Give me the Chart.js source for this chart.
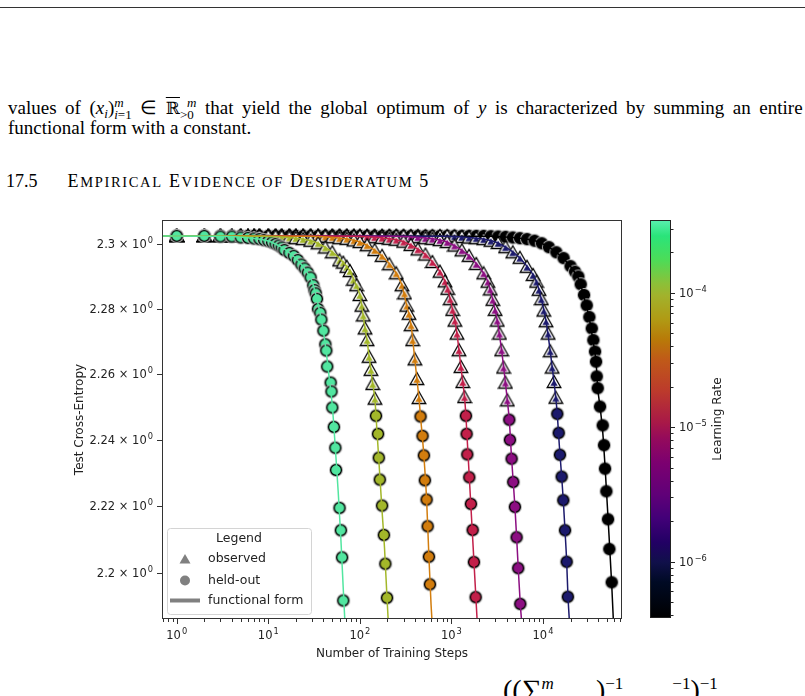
<!DOCTYPE html>
<html>
<head>
<meta charset="UTF-8">
<title>Empirical Evidence of Desideratum 5</title>
<script src="https://cdn.jsdelivr.net/npm/chart.js"></script>
<style>
  body { margin: 0; width: 805px; height: 696px; overflow: hidden; background: #fff; position: relative;
         font-family: "Liberation Serif", "Times New Roman", serif; color: #000; }
  .rule { position: absolute; left: 0; top: 7px; width: 805px; height: 1px; background: #333; }
  .txt { position: absolute; left: 8px; font-size: 19px; line-height: 19px; white-space: nowrap; }
  .ss { display: inline-block; vertical-align: -5px; font-size: 13px; line-height: 12px; }
  .ss span { display: block; }
  sub { font-size: 13px; vertical-align: -4px; line-height: 0; }
  .ov { text-decoration: overline; font-family: "DejaVu Serif", serif; font-size: 17px; }
  .sc { font-size: 14.5px; }
  #main { position: absolute; left: 70px; top: 210px; }
  #cbar { position: absolute; left: 640px; top: 210px; }
  .formula { position: absolute; left: 503px; top: 674px; font-size: 28px; white-space: nowrap; }
  .formula sup { font-size: 17px; vertical-align: 10px; }
</style>
</head>
<body>
<div class="rule"></div>
<div class="txt" id="l1" style="top:97px">values of (<i>x<sub>i</sub></i>)<span class="ss"><span><i>m</i></span><span><i>i</i>=1</span></span> ∈ <span class="ov">ℝ</span><span class="ss"><span>&nbsp;<i>m</i></span><span>&gt;0</span></span> that yield the global optimum of <i>y</i> is characterized by summing an entire</div>
<div class="txt" style="top:118px">functional form with a constant.</div>
<div class="txt" style="top:172px; left:6px; font-size:18px">17.5<span id="head" style="margin-left:30px">E<span class="sc">MPIRICAL</span> E<span class="sc">VIDENCE OF</span> D<span class="sc">ESIDERATUM</span> 5</span></div>
<div class="formula">((∑<sup><i>m</i></sup>&nbsp;&nbsp;&nbsp;&nbsp;&nbsp;&nbsp;)<sup>−1</sup>&nbsp;&nbsp;&nbsp;&nbsp;&nbsp;&nbsp;&nbsp;<sup>−1</sup>)<sup>−1</sup></div>

<canvas id="main" width="560" height="460"></canvas>
<canvas id="cbar" width="110" height="420"></canvas>

<script>
// one curve per learning rate, highest first (green) down to lowest (black)
const learningRates = [3.2e-4, 1e-4, 3.2e-5, 1e-5, 3.2e-6, 1e-6, 3.8e-7];
const curveColors = ['#52e6a0', '#a3b72a', '#d27d0e', '#c2204a', '#8c0f82', '#1c1a6c', '#000000'];

// observed points (triangles)
const obsSteps = [
  [],
  [1,2,3,4,5,6,7,8,10,12,14,17,20,24,29,35,42,50,60,66,72,78,85,92,100,105,109,114,120,126,132,138,146],
  [1,2,3,4,5,6,7,8,10,12,14,17,20,24,29,35,42,50,60,72,86,100,120,145,175,210,250,288,307,325,344,363,377,399,420,442],
  [1,2,3,4,5,6,7,8,10,12,14,17,20,24,29,35,42,50,60,72,86,100,120,145,175,210,250,300,360,430,520,620,750,850,910,970,1030,1090,1150,1210,1270,1330,1390],
  [1,2,3,4,5,6,7,8,10,12,14,17,20,24,29,35,42,50,60,72,86,100,120,145,175,210,250,300,360,430,520,620,750,900,1080,1300,1560,1870,2250,2500,2660,2830,3000,3170,3350,3530,3710,3890,4080],
  [1,2,3,4,5,6,7,8,10,12,14,17,20,24,29,35,42,50,60,72,86,100,120,145,175,210,250,300,360,430,520,620,750,900,1080,1300,1560,1870,2250,2700,3240,3900,4680,5600,6700,7800,8500,9050,9600,10200,10800,11400,12000,12600,13200,13800],
  []
];
const obsLoss = [
  [],
  [2.3026,2.3026,2.3026,2.3026,2.3026,2.3026,2.3026,2.3025,2.3025,2.3024,2.3023,2.3021,2.3019,2.3016,2.3011,2.3003,2.299,2.2975,2.295,2.2943,2.293,2.2917,2.289,2.2873,2.2843,2.281,2.278,2.274,2.2704,2.2653,2.2613,2.257,2.2525],
  [2.3026,2.3026,2.3026,2.3026,2.3026,2.3026,2.3026,2.3026,2.3026,2.3026,2.3026,2.3026,2.3026,2.3026,2.3025,2.3025,2.3024,2.3022,2.3019,2.3017,2.3012,2.3007,2.2997,2.2982,2.2964,2.2938,2.291,2.2873,2.2848,2.281,2.2785,2.275,2.2704,2.2645,2.2585,2.2527],
  [2.3026,2.3026,2.3026,2.3026,2.3026,2.3026,2.3026,2.3026,2.3026,2.3026,2.3026,2.3026,2.3026,2.3026,2.3026,2.3026,2.3026,2.3026,2.3026,2.3026,2.3025,2.3025,2.3024,2.3022,2.302,2.3017,2.3014,2.3008,2.2998,2.2984,2.2968,2.2945,2.2915,2.2885,2.2862,2.283,2.2797,2.2764,2.2724,2.2673,2.2622,2.2576,2.253],
  [2.3026,2.3026,2.3026,2.3026,2.3026,2.3026,2.3026,2.3026,2.3026,2.3026,2.3026,2.3026,2.3026,2.3026,2.3026,2.3026,2.3026,2.3026,2.3026,2.3026,2.3026,2.3026,2.3026,2.3026,2.3026,2.3026,2.3026,2.3025,2.3024,2.3022,2.3019,2.3017,2.3013,2.3007,2.2996,2.2981,2.2964,2.2939,2.291,2.2884,2.286,2.2828,2.2797,2.2764,2.2724,2.2673,2.262,2.2574,2.252],
  [2.3026,2.3026,2.3026,2.3026,2.3026,2.3026,2.3026,2.3026,2.3026,2.3026,2.3026,2.3026,2.3026,2.3026,2.3026,2.3026,2.3026,2.3026,2.3026,2.3026,2.3026,2.3026,2.3026,2.3026,2.3026,2.3026,2.3026,2.3026,2.3026,2.3026,2.3026,2.3026,2.3026,2.3026,2.3025,2.3023,2.3021,2.3019,2.3016,2.3011,2.3004,2.2991,2.2975,2.2958,2.293,2.2905,2.2884,2.2859,2.283,2.2795,2.2762,2.2724,2.267,2.262,2.2576,2.2528],
  []
];

// held-out points (circles)
const heldSteps = [
  [1,2,3,4,5,6,7,8,9,10,11,12,13,14,15,17,19,21,23,25,27,29,31,32,33,34,35,37,38,40,42,43,44,48,49,50,52,54,55,60,62,64,66],
  [150,158,161,165,175,183,190,198],
  [460,484,500,513,536,550,568,582],
  [1440,1466,1490,1567,1634,1706,1762,1841],
  [4285,4355,4545,4735,4940,5155,5370,5650],
  [14320,14860,15300,16000,16670,17400,18150,18700],
  [1,2,3,4,5,6,7,8,10,12,14,17,20,24,29,35,42,50,60,72,86,100,120,145,175,210,250,300,360,430,520,620,750,900,1080,1300,1560,1870,2250,2700,3240,3900,4680,5600,6700,8100,9700,11600,14000,16800,20000,22390,24320,25830,28060,30050,32100,34120,35510,37010,37960,38620,39620,41980,44900,46430,47620,49210,51330,53040,56360]
];
const heldLoss = [
  [2.3026,2.3026,2.3024,2.3024,2.3021,2.302,2.3018,2.3016,2.3013,2.301,2.3006,2.3001,2.2996,2.299,2.2982,2.2973,2.2964,2.2951,2.2937,2.2925,2.2912,2.2897,2.2873,2.2858,2.2848,2.2831,2.28,2.2788,2.2767,2.2733,2.2691,2.2672,2.2623,2.2574,2.2547,2.2498,2.2439,2.2376,2.2309,2.2195,2.2128,2.2047,2.1919],
  [2.2473,2.2418,2.2346,2.228,2.2202,2.2114,2.2028,2.1927],
  [2.2471,2.2412,2.2353,2.2278,2.222,2.214,2.2049,2.1967],
  [2.2473,2.2418,2.2356,2.2287,2.2207,2.2129,2.2033,2.1929],
  [2.2461,2.24,2.2343,2.2273,2.2198,2.2107,2.2015,2.1909],
  [2.2479,2.2421,2.2355,2.2289,2.2218,2.2128,2.2034,2.193],
  [2.3026,2.3026,2.3026,2.3026,2.3026,2.3026,2.3026,2.3026,2.3026,2.3026,2.3026,2.3026,2.3026,2.3026,2.3026,2.3026,2.3026,2.3026,2.3026,2.3026,2.3026,2.3026,2.3026,2.3026,2.3026,2.3026,2.3026,2.3026,2.3026,2.3026,2.3026,2.3026,2.3026,2.3026,2.3026,2.3026,2.3026,2.3026,2.3026,2.3025,2.3024,2.3023,2.3021,2.3019,2.3016,2.3011,2.3003,2.2991,2.2975,2.2957,2.2932,2.2915,2.29,2.2876,2.2843,2.2811,2.2775,2.274,2.2704,2.2669,2.2638,2.2593,2.2557,2.2501,2.2444,2.2384,2.2313,2.2245,2.2161,2.2072,2.1973]
];

// functional form
const fitSteps = [
  [0.69,3,6,10,14,18,22,26,30,34,38,42,46,50,54,58,62,66,69.5],
  [0.69,9,18,30,42,54,66,78,90,100,108,114,120,126,132,138,146,150,162,174,186,198,206],
  [0.69,28,56,93,130,167,205,250,288,325,363,390,420,442,460,500,536,568,600,620],
  [0.69,86,171,285,400,520,620,750,850,910,970,1030,1090,1150,1210,1270,1330,1390,1440,1500,1570,1640,1710,1780,1850,1925],
  [0.69,250,500,830,1160,1500,1830,2250,2500,2830,3170,3530,3890,4080,4285,4545,4735,4940,5155,5370,5650,5900],
  [0.69,850,1690,2820,3950,5080,6200,7800,8500,9600,10800,12000,13200,13800,14320,15070,16000,16670,17400,18150,18700,19450],
  [0.69,2500,5000,8360,11700,15000,18400,21700,25100,28400,31800,35100,37960,39620,41980,44900,47620,51330,56360,59200]
];
const fitLoss = [
  [2.3026,2.3025,2.302,2.301,2.299,2.2968,2.2943,2.2917,2.2885,2.283,2.2767,2.269,2.2595,2.2505,2.2375,2.2245,2.2105,2.195,2.183],
  [2.3026,2.3025,2.302,2.301,2.299,2.2968,2.2943,2.2917,2.2877,2.2843,2.2785,2.274,2.2704,2.2655,2.2613,2.257,2.2525,2.2475,2.233,2.2195,2.2075,2.1927,2.184],
  [2.3026,2.3025,2.302,2.301,2.299,2.2968,2.2943,2.291,2.2873,2.281,2.275,2.267,2.2585,2.2527,2.2471,2.2353,2.222,2.2049,2.1905,2.184],
  [2.3026,2.3025,2.302,2.301,2.299,2.2968,2.2945,2.2915,2.2885,2.2862,2.283,2.2797,2.2764,2.2724,2.2673,2.2622,2.2576,2.253,2.2473,2.2384,2.2285,2.219,2.21,2.2013,2.1929,2.1843],
  [2.3026,2.3025,2.302,2.301,2.299,2.2968,2.2943,2.291,2.2884,2.2828,2.2764,2.2673,2.2574,2.252,2.2461,2.2343,2.2273,2.2198,2.2107,2.2015,2.1909,2.1845],
  [2.3026,2.3025,2.302,2.301,2.299,2.2968,2.2943,2.2905,2.2884,2.283,2.2762,2.267,2.2576,2.2528,2.2479,2.2385,2.2289,2.2218,2.2128,2.2034,2.194,2.1855],
  [2.3026,2.3025,2.302,2.301,2.299,2.2968,2.2943,2.2917,2.2885,2.283,2.2775,2.2704,2.2638,2.2557,2.2501,2.2425,2.232,2.2165,2.1965,2.1838]
];

// axes: tick values, and labels split into base and exponent
const xRange = [0.691, 72950];
const yRange = [2.18643, 2.30755];
const xMajorTicks = [1, 10, 100, 1000, 10000];
const xTickExps = ['0', '1', '2', '3', '4'];
const xMinorTicks = [0.7,0.8,0.9,2,3,4,5,6,7,8,9,20,30,40,50,60,70,80,90,200,300,400,500,600,700,800,900,
  2000,3000,4000,5000,6000,7000,8000,9000,20000,30000,40000,50000,60000,70000];
const yTicks = [2.2, 2.22, 2.24, 2.26, 2.28, 2.3];
const yTickBases = ['2.2 \u00d7 10', '2.22 \u00d7 10', '2.24 \u00d7 10', '2.26 \u00d7 10', '2.28 \u00d7 10', '2.3 \u00d7 10'];

// colour bar
const cbarRange = [3.81e-7, 3.47e-4];
const cbarTicks = [1e-6, 1e-5, 1e-4];
const cbarTickExps = ['\u22126', '\u22125', '\u22124'];
const cbarMinorTicks = [4e-7,5e-7,6e-7,7e-7,8e-7,9e-7,2e-6,3e-6,4e-6,5e-6,6e-6,7e-6,8e-6,9e-6,
  2e-5,3e-5,4e-5,5e-5,6e-5,7e-5,8e-5,9e-5,2e-4,3e-4];
const cmapStops = [[0,'#5aeeb0'],[0.04,'#2ae47a'],[0.10,'#4cdc58'],[0.16,'#8cc038'],[0.19,'#a2b22c'],
  [0.25,'#b09a14'],[0.30,'#b87a08'],[0.35,'#c05a18'],[0.43,'#bc3a2c'],[0.51,'#a81848'],[0.55,'#940a5c'],
  [0.61,'#7c0070'],[0.69,'#600078'],[0.75,'#420078'],[0.81,'#220064'],[0.86,'#10104a'],[0.91,'#000a24'],[1,'#000000']];

const legendLabels = ['observed', 'held-out', 'functional form'];

const FONT = '"DejaVu Sans", sans-serif';
const TICK_SIZE = 11.5;
Chart.defaults.font.family = FONT;
Chart.defaults.color = '#222';

// marker images: ringed circle and outlined triangle
function circleMarker(color) {
  const c = document.createElement('canvas');
  c.width = 16; c.height = 16;
  const g = c.getContext('2d');
  g.fillStyle = '#b4b4b4';
  g.beginPath(); g.arc(8, 8, 7, 0, Math.PI * 2); g.fill();
  g.fillStyle = color; g.strokeStyle = '#000'; g.lineWidth = 1.3;
  g.beginPath(); g.arc(8, 8, 5.4, 0, Math.PI * 2); g.fill(); g.stroke();
  return c;
}
function triangleMarker(color) {
  const c = document.createElement('canvas');
  c.width = 16; c.height = 16;
  const g = c.getContext('2d');
  g.fillStyle = '#fff'; g.strokeStyle = '#000'; g.lineWidth = 1.3;
  g.beginPath(); g.moveTo(8, 1.5); g.lineTo(14.8, 13.5); g.lineTo(1.2, 13.5); g.closePath();
  g.fill(); g.stroke();
  g.fillStyle = color;
  g.beginPath(); g.moveTo(8, 5.5); g.lineTo(11.6, 11.8); g.lineTo(4.4, 11.8); g.closePath(); g.fill();
  return c;
}

const pts = (xs, ys) => xs.map((x, i) => ({ x: x, y: ys[i] }));

const datasets = [];
learningRates.forEach((lr, k) => {
  datasets.push({
    label: 'fit ' + lr,
    data: pts(fitSteps[k], fitLoss[k]),
    showLine: true, pointRadius: 0, borderColor: curveColors[k], borderWidth: 1.5,
    cubicInterpolationMode: 'monotone', order: k
  });
  if (obsSteps[k].length) {
    datasets.push({
      label: 'observed ' + lr,
      data: pts(obsSteps[k], obsLoss[k]),
      showLine: false, pointStyle: triangleMarker(curveColors[k]), pointRadius: 7, order: 10 + k
    });
  }
  datasets.push({
    label: 'held-out ' + lr,
    data: pts(heldSteps[k], heldLoss[k]),
    showLine: false, pointStyle: circleMarker(curveColors[k]), pointRadius: 7, order: 10 + k
  });
});

// "base^exp" label like matplotlib mathtext, y is the baseline
function powLabel(ctx, base, exp, x, y, align) {
  const big = TICK_SIZE + 'px ' + FONT, small = (TICK_SIZE * 0.72) + 'px ' + FONT;
  ctx.font = big; const wb = ctx.measureText(base).width;
  ctx.font = small; const we = ctx.measureText(exp).width;
  const total = wb + 1 + we;
  const left = align === 'center' ? x - total / 2 : align === 'right' ? x - total : x;
  ctx.textAlign = 'left'; ctx.textBaseline = 'alphabetic';
  ctx.font = big; ctx.fillText(base, left, y);
  ctx.font = small; ctx.fillText(exp, left + wb + 1, y - TICK_SIZE * 0.42);
}

function drawLegend(ctx, a) {
  const L = a.left + 5, W = 144, H = 86, T = a.bottom - 5 - H;
  ctx.save();
  ctx.fillStyle = 'rgba(255,255,255,0.85)';
  ctx.strokeStyle = '#d4d4d4'; ctx.lineWidth = 1;
  const r = 3, x0 = L + 0.5, y0 = T + 0.5;
  ctx.beginPath();
  ctx.moveTo(x0 + r, y0); ctx.lineTo(x0 + W - r, y0); ctx.arcTo(x0 + W, y0, x0 + W, y0 + r, r);
  ctx.lineTo(x0 + W, y0 + H - r); ctx.arcTo(x0 + W, y0 + H, x0 + W - r, y0 + H, r);
  ctx.lineTo(x0 + r, y0 + H); ctx.arcTo(x0, y0 + H, x0, y0 + H - r, r);
  ctx.lineTo(x0, y0 + r); ctx.arcTo(x0, y0, x0 + r, y0, r); ctx.closePath();
  ctx.fill(); ctx.stroke();

  ctx.fillStyle = '#222'; ctx.font = '12.5px ' + FONT; ctx.textBaseline = 'middle';
  ctx.textAlign = 'center';
  ctx.fillText('Legend', L + W / 2, T + 11);
  ctx.textAlign = 'left';
  const rows = [T + 31, T + 52.5, T + 72.5];
  legendLabels.forEach((t, i) => ctx.fillText(t, L + 41, rows[i]));

  ctx.fillStyle = '#808080';
  const mx = L + 18;
  ctx.beginPath(); ctx.moveTo(mx, rows[0] - 5); ctx.lineTo(mx + 5.5, rows[0] + 4.5); ctx.lineTo(mx - 5.5, rows[0] + 4.5); ctx.closePath(); ctx.fill();
  ctx.beginPath(); ctx.arc(mx, rows[1], 5, 0, Math.PI * 2); ctx.fill();
  ctx.strokeStyle = '#808080'; ctx.lineWidth = 4;
  ctx.beginPath(); ctx.moveTo(L + 3, rows[2]); ctx.lineTo(L + 33, rows[2]); ctx.stroke();
  ctx.restore();
}

const frameTicks = {
  id: 'frameTicks',
  afterDraw(chart) {
    const { ctx, chartArea: a, scales: { x, y } } = chart;
    ctx.save();
    ctx.strokeStyle = '#333'; ctx.lineWidth = 1;
    ctx.strokeRect(a.left + 0.5, a.top + 0.5, a.right - a.left - 1, a.bottom - a.top - 1);
    ctx.beginPath();
    xMajorTicks.forEach(v => {
      const p = Math.round(x.getPixelForValue(v)) + 0.5;
      ctx.moveTo(p, a.bottom); ctx.lineTo(p, a.bottom + 5);
    });
    xMinorTicks.forEach(v => {
      const p = Math.round(x.getPixelForValue(v)) + 0.5;
      ctx.moveTo(p, a.bottom); ctx.lineTo(p, a.bottom + 3);
    });
    yTicks.forEach(v => {
      const p = Math.round(y.getPixelForValue(v)) + 0.5;
      ctx.moveTo(a.left, p); ctx.lineTo(a.left - 5, p);
    });
    ctx.stroke();
    ctx.fillStyle = '#222';
    xMajorTicks.forEach((v, i) => powLabel(ctx, '10', xTickExps[i], x.getPixelForValue(v), a.bottom + 20, 'center'));
    yTicks.forEach((v, i) => powLabel(ctx, yTickBases[i], '0', a.left - 9, y.getPixelForValue(v) + 4, 'right'));
    ctx.restore();
    drawLegend(ctx, a);
  }
};

new Chart(document.getElementById('main'), {
  type: 'scatter',
  data: { datasets: datasets },
  options: {
    responsive: false, animation: false, devicePixelRatio: 1,
    layout: { padding: { top: 10, right: 8, left: 0, bottom: 0 } },
    plugins: { legend: { display: false }, tooltip: { enabled: false } },
    scales: {
      x: {
        type: 'logarithmic', position: 'bottom', min: xRange[0], max: xRange[1],
        afterFit: s => { s.height = 51; },
        grid: { display: false, drawTicks: false }, border: { display: false },
        ticks: { display: false },
        title: { display: true, text: 'Number of Training Steps', font: { size: 12 }, color: '#222', padding: { top: 0, bottom: 9 } }
      },
      y: {
        type: 'logarithmic', min: yRange[0], max: yRange[1],
        afterFit: s => { s.width = 92; },
        grid: { display: false, drawTicks: false }, border: { display: false },
        ticks: { display: false },
        title: { display: true, text: 'Test Cross-Entropy', font: { size: 12 }, color: '#222', padding: { top: 3, bottom: 0 } }
      }
    }
  },
  plugins: [frameTicks]
});

// colour bar as a single floating bar on a log axis
const cbarDecor = {
  id: 'cbarDecor',
  afterDraw(chart) {
    const { ctx, chartArea: a, scales: { y } } = chart;
    ctx.save();
    ctx.strokeStyle = '#222'; ctx.lineWidth = 1;
    ctx.strokeRect(a.left + 0.5, a.top + 0.5, a.right - a.left - 1, a.bottom - a.top - 1);
    ctx.beginPath();
    cbarTicks.forEach(v => {
      const p = Math.round(y.getPixelForValue(v)) + 0.5;
      ctx.moveTo(a.right, p); ctx.lineTo(a.right + 4, p);
    });
    cbarMinorTicks.forEach(v => {
      const p = Math.round(y.getPixelForValue(v)) + 0.5;
      ctx.moveTo(a.right, p); ctx.lineTo(a.right + 2.5, p);
    });
    ctx.stroke();
    ctx.fillStyle = '#222';
    cbarTicks.forEach((v, i) => powLabel(ctx, '10', cbarTickExps[i], a.right + 8, y.getPixelForValue(v) + 4, 'left'));
    ctx.font = '12px ' + FONT;
    ctx.textAlign = 'center'; ctx.textBaseline = 'middle';
    ctx.translate(78, (a.top + a.bottom) / 2);
    ctx.rotate(-Math.PI / 2);
    ctx.fillText('Learning Rate', 0, 0);
    ctx.restore();
  }
};

new Chart(document.getElementById('cbar'), {
  type: 'bar',
  data: {
    labels: [''],
    datasets: [{
      data: [cbarRange],
      barPercentage: 1, categoryPercentage: 1, borderWidth: 0,
      backgroundColor: ctx => {
        const a = ctx.chart.chartArea;
        if (!a) return '#000';
        const g = ctx.chart.ctx.createLinearGradient(0, a.top, 0, a.bottom);
        cmapStops.forEach(s => g.addColorStop(s[0], s[1]));
        return g;
      }
    }]
  },
  options: {
    responsive: false, animation: false, devicePixelRatio: 1,
    layout: { padding: { top: 10, left: 10, bottom: 12, right: 0 } },
    plugins: { legend: { display: false }, tooltip: { enabled: false } },
    scales: {
      x: { display: false },
      y: {
        type: 'logarithmic', position: 'right', min: cbarRange[0], max: cbarRange[1],
        afterFit: s => { s.width = 79; },
        grid: { display: false, drawTicks: false }, border: { display: false },
        ticks: { display: false }
      }
    }
  },
  plugins: [cbarDecor]
});

// stretch the first paragraph line to the full text width, like justified text
const l1 = document.getElementById('l1');
const gaps = (l1.textContent.match(/ /g) || []).length;
l1.style.wordSpacing = ((792 - l1.getBoundingClientRect().width) / gaps) + 'px';

// the heading's small capitals are set wider in the original
const head = document.getElementById('head');
const nChars = head.textContent.length;
head.style.letterSpacing = ((430 - head.getBoundingClientRect().right) / nChars) + 'px';
</script>
</body>
</html>
